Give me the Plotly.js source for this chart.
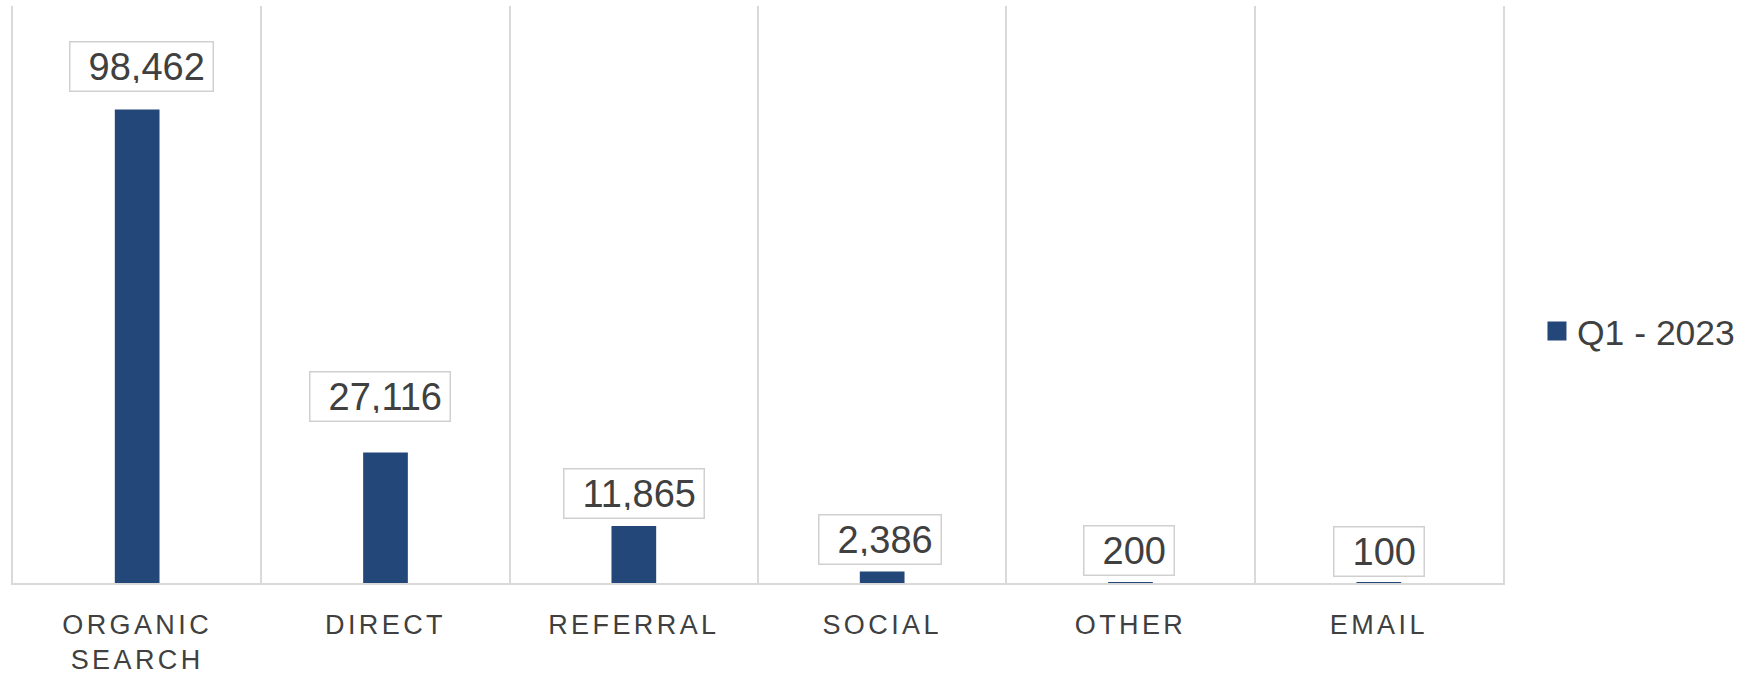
<!DOCTYPE html>
<html>
<head>
<meta charset="utf-8">
<script src="https://cdn.plot.ly/plotly-3.0.1.min.js"></script>
<style>
  html, body { margin: 0; padding: 0; background: #ffffff; }
  #chart { width: 1742px; height: 674px; }
  .xtick text { letter-spacing: 3.4px; }
</style>
</head>
<body>
<div id="chart"></div>
<script>
// ---- data ----
const categories = ["ORGANIC<br>SEARCH", "DIRECT", "REFERRAL", "SOCIAL", "OTHER", "EMAIL"];
const sessions = [98462, 27116, 11865, 2386, 200, 100];
const seriesName = "Q1 - 2023";

// ---- styling ----
const barColor = "#24477a";
const textColor = "#404040";
const gridColor = "#d9d9d9";
const labelLift = [18, 31, 7, 7, 6, 6];      // px gap between bar top and its label box
const labelNudge = [4.5, -6, 0, -2, -1.5, 0]; // px horizontal nudge of each label box

const trace = {
  type: "bar",
  x: categories,
  y: sessions,
  name: seriesName,
  marker: { color: barColor },
  hoverinfo: "x+y",
  showlegend: true
};

const annotations = categories.map((c, i) => ({
  x: c,
  y: sessions[i],
  xref: "x",
  yref: "y",
  text: "\u00a0" + sessions[i].toLocaleString("en-US"),
  showarrow: false,
  yanchor: "bottom",
  xanchor: "center",
  yshift: labelLift[i],
  xshift: labelNudge[i],
  font: { family: "Liberation Sans, Arial, sans-serif", size: 38, color: textColor },
  bordercolor: "#d0d0d0",
  borderwidth: 1.5,
  borderpad: 7.5,
  height: 33,
  bgcolor: "rgba(255,255,255,0)"
}));

const layout = {
  width: 1742,
  height: 674,
  margin: { l: 13, r: 239, t: 6, b: 91, pad: 0, autoexpand: false },
  paper_bgcolor: "#ffffff",
  plot_bgcolor: "#ffffff",
  bargap: 0.82,
  showlegend: true,
  font: { family: "Liberation Sans, Arial, sans-serif", color: textColor },
  xaxis: {
    type: "category",
    tickson: "boundaries",
    ticks: "",
    showgrid: true,
    gridcolor: gridColor,
    gridwidth: 1.5,
    showline: true,
    linecolor: gridColor,
    linewidth: 1.5,
    tickfont: { family: "Liberation Sans, Arial, sans-serif", size: 27, color: textColor },
    ticklabelstandoff: 17,
    automargin: false,
    fixedrange: true
  },
  yaxis: {
    range: [0, 120000],
    showgrid: false,
    zeroline: false,
    showticklabels: false,
    ticks: "",
    showline: true,
    mirror: true,
    linecolor: gridColor,
    linewidth: 1.5,
    automargin: false,
    fixedrange: true
  },
  legend: {
    x: 1.0228,
    xref: "paper",
    xanchor: "left",
    y: 0.436,
    yref: "paper",
    yanchor: "middle",
    font: { family: "Liberation Sans, Arial, sans-serif", size: 35.5, color: textColor },
    bgcolor: "rgba(255,255,255,0)",
    borderwidth: 0
  },
  annotations: annotations
};

Plotly.newPlot("chart", [trace], layout, { displayModeBar: false }).then(gd => {
  // enlarge legend swatch to match reference
  document.querySelectorAll(".legend .legendpoints path").forEach(p => {
    p.setAttribute("d", "M9.5,9.5H-9.5V-9.5H9.5Z");
  });
});
</script>
</body>
</html>
